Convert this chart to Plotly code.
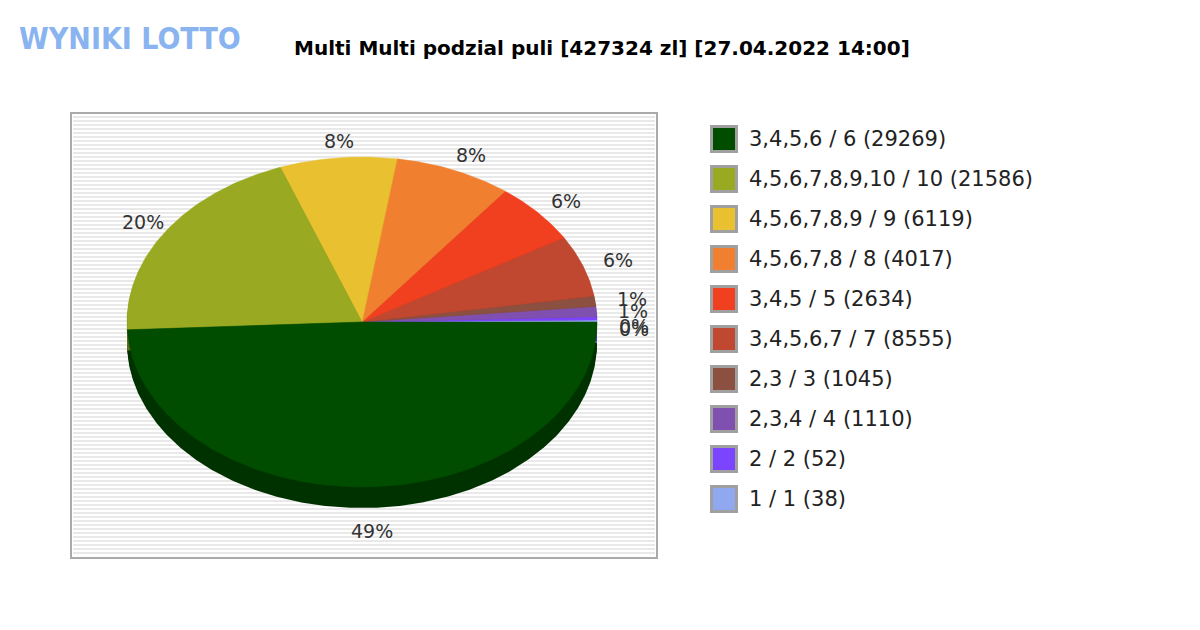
import numpy as np
import plotly.graph_objects as go

labels = ["1 / 1 (38)", "2 / 2 (52)", "2,3,4 / 4 (1110)", "2,3 / 3 (1045)",
          "3,4,5,6,7 / 7 (8555)", "3,4,5 / 5 (2634)", "4,5,6,7,8 / 8 (4017)",
          "4,5,6,7,8,9 / 9 (6119)", "4,5,6,7,8,9,10 / 10 (21586)", "3,4,5,6 / 6 (29269)"]
pcts = [0.2, 0.3, 1, 1, 6, 6, 8, 8, 20, 49]
pct_text = ["0%", "0%", "1%", "1%", "6%", "6%", "8%", "8%", "20%", "49%"]
colors = ["#90a8f0", "#7b44ff", "#8050b0", "#8b5040", "#c04830", "#f04020",
          "#f08030", "#e8c030", "#99aa22", "#004d00"]
legend_order = [9, 8, 7, 6, 5, 4, 3, 2, 1, 0]

cx, cy, rx, ry, depth = 362, 322, 235, 165, 22


def darker(c, f=0.65):
    r, g, b = int(c[1:3], 16), int(c[3:5], 16), int(c[5:7], 16)
    return "rgb(%d,%d,%d)" % (r * f, g * f, b * f)


fig = go.Figure()
shapes = []
# striped background box
shapes.append(dict(type="rect", x0=71, x1=657, y0=113, y1=558, layer="below",
                   line=dict(color="#aaaaaa", width=2), fillcolor="white"))
for y in np.arange(117, 556, 4):
    shapes.append(dict(type="line", x0=73, x1=655, y0=y, y1=y, layer="below",
                       line=dict(color="#e2e2e2", width=1.5)))

vals = np.array(pcts) / sum(pcts) * 360
starts = np.concatenate([[0], np.cumsum(vals)[:-1]])


def wedge(a0, a1, dy):
    t = np.radians(np.linspace(a0, a1, max(int(a1 - a0) * 2, 2)))
    xs = np.concatenate([[cx], cx + rx * np.cos(t), [cx]])
    ys = np.concatenate([[cy], cy - ry * np.sin(t), [cy]]) + dy
    return xs, ys

for k in range(1, depth + 1, 2):
    for i in range(len(vals)):
        xs, ys = wedge(starts[i], starts[i] + vals[i], k)
        fig.add_trace(go.Scatter(x=xs, y=ys, fill="toself", fillcolor=darker(colors[i]),
                                 line=dict(width=0), mode="lines", hoverinfo="skip"))
for i in range(len(vals)):
    xs, ys = wedge(starts[i], starts[i] + vals[i], 0)
    fig.add_trace(go.Scatter(x=xs, y=ys, fill="toself", fillcolor=colors[i],
                             line=dict(width=0.5, color=colors[i]), mode="lines", hoverinfo="skip"))

annotations = []
for i in range(len(vals)):
    m = np.radians(starts[i] + vals[i] / 2)
    lx = cx + rx * 1.14 * np.cos(m) + 4
    ly = cy - ry * 1.1 * np.sin(m) + (depth + 6 if np.sin(m) < 0 else 0)
    if np.sin(m) < 0.05 and np.sin(m) >= 0:
        ly += 8  # tiny slices at the right edge sit a bit lower
    annotations.append(dict(x=lx, y=ly, text=pct_text[i], showarrow=False,
                            font=dict(size=19, color="#333333")))

for row, i in enumerate(legend_order):
    y = 139 + row * 40
    fig.add_trace(go.Scatter(x=[724], y=[y], mode="markers",
                             marker=dict(symbol="square", size=25, color=colors[i],
                                         line=dict(color="#a0a0a0", width=3))))
    annotations.append(dict(x=747, y=y, text=labels[i], showarrow=False, xanchor="left",
                            font=dict(size=21, color="#222222")))

annotations.append(dict(x=602, y=48, text="<b>Multi Multi podzial puli [427324 zl] [27.04.2022 14:00]</b>",
                        showarrow=False, font=dict(size=20, color="black")))
annotations.append(dict(x=130, y=38, text="<b>WYNIKI LOTTO</b>", showarrow=False,
                        font=dict(size=30, color="#8ab4f0", family="DejaVu Sans Condensed")))

fig.update_layout(
    width=1200, height=630, margin=dict(l=0, r=0, t=0, b=0),
    paper_bgcolor="white", plot_bgcolor="white", showlegend=False,
    font=dict(family="DejaVu Sans"),
    xaxis=dict(range=[8, 1208], visible=False),
    yaxis=dict(range=[638, 8], visible=False),
    shapes=shapes, annotations=annotations,
)
fig.write_html("out.html")
